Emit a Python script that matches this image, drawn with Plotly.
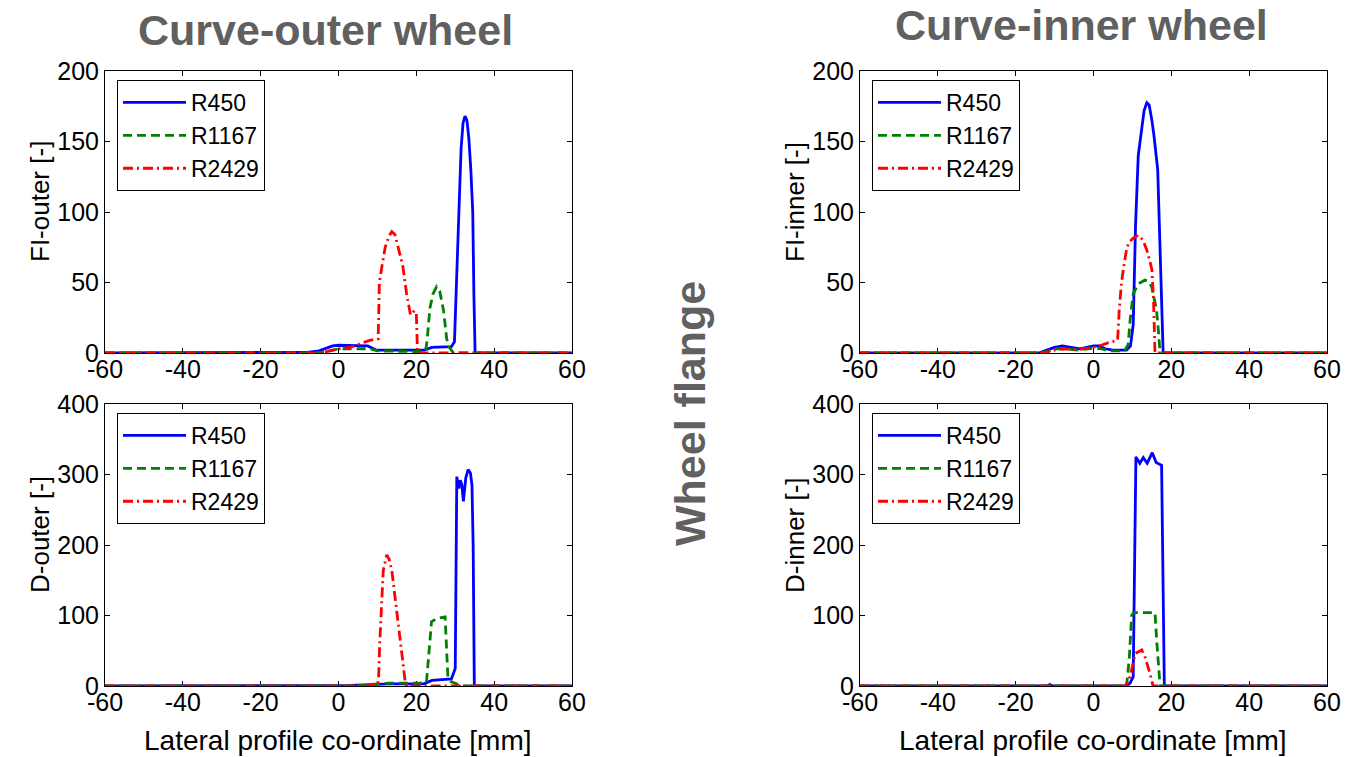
import plotly.graph_objects as go

# ---------------- data ----------------
SERIES_NAMES = ["R450", "R1167", "R2429"]
X_TICKS = [-60, -40, -20, 0, 20, 40, 60]
X_TICK_LABELS = ["-60", "-40", "-20", "0", "20", "40", "60"]
Y_TICKS_FI = [0, 50, 100, 150, 200]
Y_TICKS_D = [0, 100, 200, 300, 400]

# FI-outer (curve-outer wheel)
fi_out_r450_x = [-60, -10, -8, -5, -3, -1.5, 0, 5, 7.5, 9.8, 22, 24, 29, 29.8, 30.4, 31, 31.5, 32, 32.5, 33, 33.5, 34, 34.5, 34.8, 35.1, 60]
fi_out_r450_y = [0, 0, 0.5, 1.5, 3.5, 5, 5.5, 5.5, 5, 2, 2, 4, 4.5, 8, 60, 110, 145, 163, 168, 165, 152, 130, 100, 40, 0, 0]
fi_out_r1167_x = [-60, -6, -3, -1, 0, 8, 10, 20, 22.4, 22.8, 23.5, 24.3, 25.2, 26, 27, 27.8, 28.5, 29.5, 60]
fi_out_r1167_y = [0, 0, 1, 2.5, 3, 3, 1.5, 1, 1.5, 10, 32, 42, 47, 44, 30, 10, 4, 0, 0]
fi_out_r2429_x = [-60, -6, -3, 0, 3, 6, 8, 10.2, 10.5, 11.2, 12, 13, 13.7, 14.5, 15.5, 16.5, 17.5, 18.5, 19.5, 20, 20.3, 60]
fi_out_r2429_y = [0, 0, 1, 3, 4, 7, 9, 10, 50, 62, 75, 83, 86, 84, 72, 62, 42, 27, 30, 28, 0, 0]

# D-outer
d_out_r450_x = [-60, 0, 3, 13, 22, 24, 29, 30, 30.4, 30.9, 31.3, 31.7, 32.1, 32.7, 33.3, 33.9, 34.3, 34.6, 34.9, 60]
d_out_r450_y = [0, 0, 1, 3, 3, 8, 10, 25, 297, 280, 292, 285, 262, 295, 307, 302, 285, 200, 0, 0]
d_out_r1167_x = [-60, 5, 8, 13, 22, 22.6, 23.9, 25.2, 27.4, 28.1, 29, 30.4, 31, 60]
d_out_r1167_y = [0, 0, 2, 4, 4, 5, 91, 96, 98, 13, 6, 3, 0, 0]
d_out_r2429_x = [-60, 7, 10, 10.3, 10.6, 11.5, 12.4, 13, 13.7, 14.9, 16.2, 17.1, 17.5, 60]
d_out_r2429_y = [0, 0, 2, 10, 61, 164, 186, 180, 164, 108, 51, 8, 0, 0]

# FI-inner (curve-inner wheel)
fi_in_r450_x = [-60, -14, -12, -10, -8, -6, -3.5, 0, 1.5, 3, 5, 8.5, 9.5, 10.2, 10.8, 11.5, 12.2, 13, 13.7, 14.3, 15, 15.5, 16.5, 17.3, 17.9, 60]
fi_in_r450_y = [0, 0, 2, 4, 5, 4, 3, 5, 5, 3, 2, 2, 5, 20, 90, 140, 155, 172, 177.5, 176, 165, 155, 130, 60, 0, 0]
fi_in_r1167_x = [-60, -14, -12, -10, -8, -4, 0, 2, 4, 8, 8.9, 9.4, 10.2, 11.5, 13.2, 14, 14.95, 16.2, 16.7, 17.1, 60]
fi_in_r1167_y = [0, 0, 1, 3, 3, 2, 3.5, 3, 1.5, 1.5, 6, 23, 42, 49, 51.8, 51, 47, 30.5, 15, 0, 0]
fi_in_r2429_x = [-60, -13, -10, -8, -4, -1, 1, 3.5, 6.2, 6.6, 7.2, 7.7, 8.4, 9, 10, 11, 12, 13, 13.7, 14.5, 15, 15.4, 15.8, 60]
fi_in_r2429_y = [0, 0, 2, 3, 2.5, 4, 4.5, 7, 9, 30, 50, 60, 72, 78, 81, 83, 83, 78, 73, 65, 59, 40, 0, 0]

# D-inner
d_in_r450_x = [-60, -12, -11.2, -10.5, 8.5, 9.4, 10.2, 10.9, 11.9, 12.8, 13.8, 15.1, 16.1, 17.5, 18.2, 60]
d_in_r450_y = [0, 0, 2, 0, 0, 4, 13, 325, 316, 324, 316, 331, 317, 313, 0, 0]
d_in_r1167_x = [-60, 8.5, 9.2, 9.8, 10.3, 15.8, 16.3, 17.1, 60]
d_in_r1167_y = [0, 0, 40, 100, 104, 104, 60, 0, 0]
d_in_r2429_x = [-60, 8.2, 9.4, 10.7, 12.4, 13.2, 14.5, 15.3, 60]
d_in_r2429_y = [0, 0, 13, 46, 51, 41.6, 18, 0, 0]

PANELS = [
    ("x", "y", "legend", [(fi_out_r450_x, fi_out_r450_y), (fi_out_r1167_x, fi_out_r1167_y), (fi_out_r2429_x, fi_out_r2429_y)], Y_TICKS_FI, "FI-outer [-]"),
    ("x2", "y2", "legend2", [(fi_in_r450_x, fi_in_r450_y), (fi_in_r1167_x, fi_in_r1167_y), (fi_in_r2429_x, fi_in_r2429_y)], Y_TICKS_FI, "FI-inner [-]"),
    ("x3", "y3", "legend3", [(d_out_r450_x, d_out_r450_y), (d_out_r1167_x, d_out_r1167_y), (d_out_r2429_x, d_out_r2429_y)], Y_TICKS_D, "D-outer [-]"),
    ("x4", "y4", "legend4", [(d_in_r450_x, d_in_r450_y), (d_in_r1167_x, d_in_r1167_y), (d_in_r2429_x, d_in_r2429_y)], Y_TICKS_D, "D-inner [-]"),
]

# ---------------- style ----------------
W, H = 1346, 757
FONT = "Liberation Sans, Arial, Helvetica, sans-serif"
STYLES = [
    dict(color="#0000FF", width=2.8, dash="solid"),
    dict(color="#008000", width=2.8, dash="9px,5px"),
    dict(color="#FF0000", width=2.8, dash="10px,4px,2px,4px"),
]

def px_x(p):
    return p / W

def px_y(p):
    return 1 - p / H

# plot boxes in pixels: (left, right, top, bottom)
BOXES = [(105, 572, 71, 353), (860, 1327, 71, 353), (105, 572, 404, 686), (860, 1327, 404, 686)]

fig = go.Figure()
for (xa, ya, lg, series, yt, ytitle) in PANELS:
    for name, (xs, ys), st in zip(SERIES_NAMES, series, STYLES):
        fig.add_trace(go.Scatter(x=xs, y=ys, mode="lines", name=name, xaxis=xa, yaxis=ya,
                                 legend=lg, line=st, hoverinfo="x+y"))

layout = dict(width=W, height=H, margin=dict(l=0, r=0, t=0, b=0, autoexpand=False),
              paper_bgcolor="white", plot_bgcolor="white",
              font=dict(family=FONT, color="black", size=24), showlegend=True)

axis_common = dict(showline=True, linecolor="black", linewidth=1, mirror="allticks",
                   ticks="inside", ticklen=5, tickcolor="black", showgrid=False, zeroline=False,
                   tickfont=dict(size=25, family=FONT, color="black"), layer="below traces",
                   automargin=False)

annotations = []
for i, ((xa, ya, lg, series, yt, ytitle), (l, r, t, b)) in enumerate(zip(PANELS, BOXES)):
    xkey = "xaxis" if xa == "x" else "xaxis" + xa[1:]
    ykey = "yaxis" if ya == "y" else "yaxis" + ya[1:]
    layout[xkey] = dict(axis_common, domain=[px_x(l), px_x(r)], range=[-60, 60],
                        tickvals=X_TICKS, ticktext=X_TICK_LABELS, anchor=ya,
                        ticklabelstandoff=-6)
    layout[ykey] = dict(axis_common, domain=[px_y(b), px_y(t)], range=[yt[0], yt[-1]],
                        tickvals=yt, ticktext=[str(v) for v in yt], anchor=xa)
    layout[lg] = dict(x=px_x(l + 12), y=px_y(t + 9), xanchor="left", yanchor="top",
                      bgcolor="white", bordercolor="black", borderwidth=1,
                      font=dict(size=23, family=FONT, color="black"),
                      itemwidth=63, tracegroupgap=0, itemclick=False)
    annotations.append(dict(text=ytitle, x=px_x(l - 65), y=px_y((t + b) / 2 - 10),
                            xref="paper", yref="paper", showarrow=False, textangle=-90,
                            font=dict(size=26, family=FONT, color="black"),
                            xanchor="center", yanchor="middle"))
    if i >= 2:
        annotations.append(dict(text="Lateral profile co-ordinate [mm]", x=px_x((l + r) / 2 - 1),
                                y=px_y(740), xref="paper", yref="paper", showarrow=False,
                                font=dict(size=28, family=FONT, color="black"),
                                xanchor="center", yanchor="middle"))

TITLE_FONT = dict(size=43, family=FONT, color="#606060", weight="bold")
annotations.append(dict(text="Curve-outer wheel", x=px_x(325), y=px_y(30), xref="paper", yref="paper",
                        showarrow=False, font=TITLE_FONT, xanchor="center", yanchor="middle"))
annotations.append(dict(text="Curve-inner wheel", x=px_x(1081), y=px_y(25), xref="paper", yref="paper",
                        showarrow=False, font=TITLE_FONT, xanchor="center", yanchor="middle"))
annotations.append(dict(text="Wheel flange", x=px_x(690), y=px_y(413), xref="paper", yref="paper",
                        showarrow=False, font=TITLE_FONT, textangle=-90, xanchor="center", yanchor="middle"))
layout["annotations"] = annotations

fig.update_layout(**layout)
fig.write_html("out.html", config={"displayModeBar": False},
               post_script="document.body.style.margin='0px';document.body.style.overflow='hidden';")
